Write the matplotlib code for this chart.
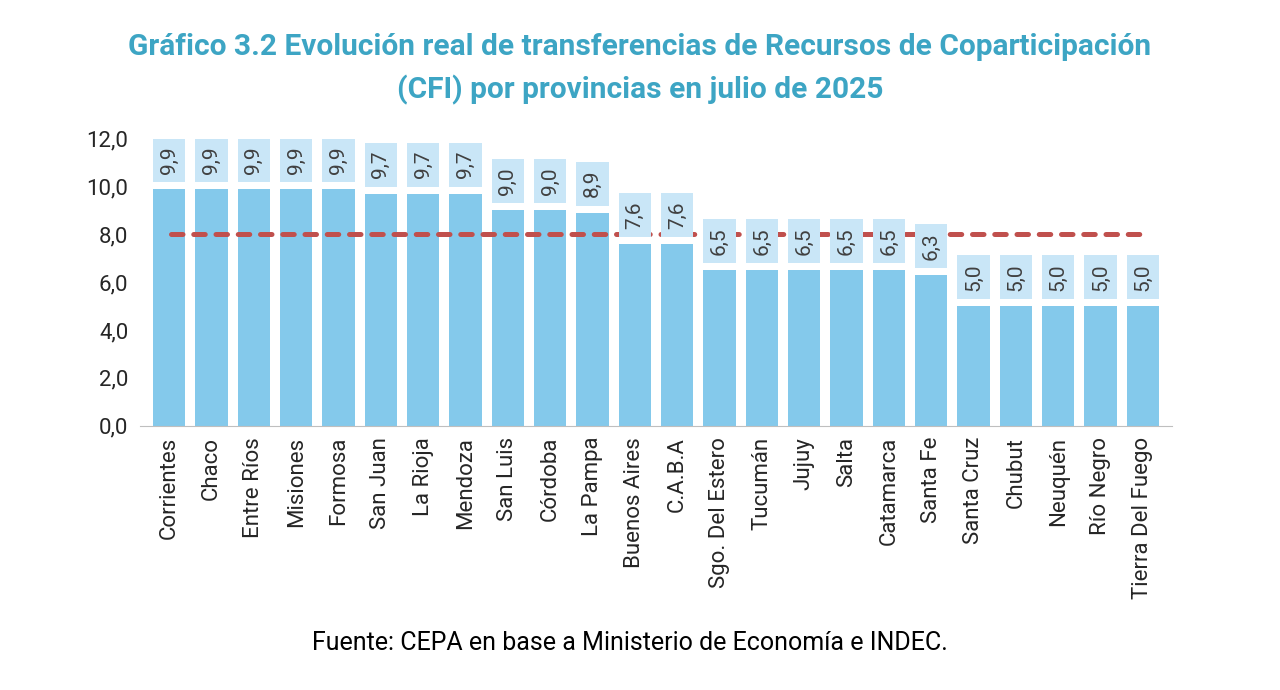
import matplotlib
matplotlib.use("Agg")
import matplotlib.pyplot as plt
import numpy as np

plt.rcParams['font.family'] = ['Roboto', 'DejaVu Sans']

provincias = ['Corrientes', 'Chaco', 'Entre Ríos', 'Misiones', 'Formosa', 'San Juan',
              'La Rioja', 'Mendoza', 'San Luis', 'Córdoba', 'La Pampa', 'Buenos Aires',
              'C.A.B.A', 'Sgo. Del Estero', 'Tucumán', 'Jujuy', 'Salta', 'Catamarca',
              'Santa Fe', 'Santa Cruz', 'Chubut', 'Neuquén', 'Río Negro', 'Tierra Del Fuego']
valores = [9.9, 9.9, 9.9, 9.9, 9.9, 9.7, 9.7, 9.7, 9.0, 9.0, 8.9, 7.6, 7.6,
           6.5, 6.5, 6.5, 6.5, 6.5, 6.3, 5.0, 5.0, 5.0, 5.0, 5.0]
promedio = 8.0
yticks = [0, 2, 4, 6, 8, 10, 12]

fig = plt.figure(figsize=(12.8, 6.9), dpi=100)
ax = fig.add_axes([0.109, 0.383, 0.807, 0.416])

x = np.arange(len(provincias))
ax.bar(x, valores, width=0.77, color='#84C9EB', zorder=2)

# linea de promedio (pasa por delante de las barras, por detras de las etiquetas)
ax.plot([x[0] + 0.05, x[-1]], [promedio, promedio], color='#C0504D', lw=3.6,
        dashes=(2.3, 2.15), dash_capstyle='round', zorder=3)

# cajas de etiquetas sobre las barras
gap = 0.3
alto = 1.84
v = np.array(valores)
ax.bar(x, alto, bottom=v + gap, width=0.77, color='#C9E6F7', zorder=4)
for xi, val in zip(x, valores):
    ax.text(xi, val + gap + alto / 2, f'{val:.1f}'.replace('.', ','), rotation=90,
            ha='center', va='center', fontsize=15, color='#404040', zorder=5)

ax.set_xlim(-0.7, len(provincias) - 0.3)
ax.set_ylim(0, 12)
ax.set_yticks(yticks)
ax.set_yticklabels([f'{t:.1f}'.replace('.', ',') for t in yticks], fontsize=16, color='#262626')
ax.set_xticks(x)
ax.set_xticklabels(provincias, rotation=90, fontsize=16, color='#262626')
ax.tick_params(axis='both', length=0, pad=8)
for s in ['top', 'right', 'left']:
    ax.spines[s].set_visible(False)
ax.spines['bottom'].set_color('#BFBFBF')

fig.text(0.5, 0.9, 'Gráfico 3.2 Evolución real de transferencias de Recursos de Coparticipación\n(CFI) por provincias en julio de 2025',
         ha='center', va='center', fontsize=21.5, fontweight='bold', color='#3DA5C4',
         linespacing=1.62)
fig.text(0.492, 0.068, 'Fuente: CEPA en base a Ministerio de Economía e INDEC.',
         ha='center', va='center', fontsize=18, color='#000000')

fig.savefig('out.png', dpi=100)
